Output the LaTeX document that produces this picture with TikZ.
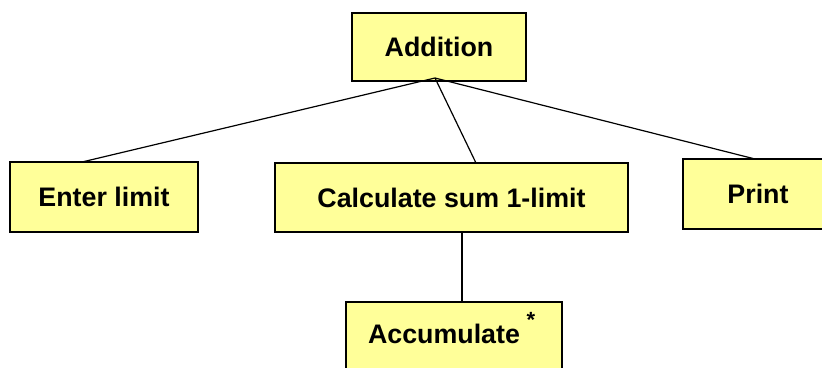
\documentclass[tikz,border=0pt]{standalone}
\usepackage{fontspec}
\setmainfont{Liberation Sans}
\definecolor{boxfill}{HTML}{FFFF99}
\begin{document}
\begin{tikzpicture}[x=1pt,y=-1pt,
  box/.style={draw=black, line width=1.6pt, fill=boxfill, inner sep=0pt, outer sep=0pt,
    font=\fontsize{26.8}{30}\selectfont\bfseries},
  conn/.style={draw=black, line width=1.2pt}]
\useasboundingbox (0,0) rectangle (822,367);
\clip (0,0) rectangle (822,367);
\node[box, minimum width=174pt, minimum height=68pt] (add) at (439,47) {Addition\hspace{12pt}};
\node[box, minimum width=188pt, minimum height=70pt] (enter) at (104,197) {Enter limit};
\node[box, minimum width=353pt, minimum height=69pt] (calc) at (451.5,197.5) {Calculate sum 1-limit};
\node[box, minimum width=150pt, minimum height=70pt] (print) at (758,194) {Print};
\node[box, minimum width=216pt, minimum height=70pt] (acc) at (454,337) {Accumulate\hspace{20pt}\strut};
\node[font=\fontsize{22}{24}\selectfont\bfseries, inner sep=0pt] (star) at (531,320) {*};
\coordinate (apex) at ([xshift=-4pt,yshift=3pt]add.south);
\draw[conn] (apex) -- ([xshift=-22pt]enter.north);
\draw[conn] (apex) -- ([xshift=24.5pt]calc.north);
\draw[conn] (apex) -- ([xshift=-3pt]print.north);
\draw[conn] ([xshift=10.5pt]calc.south) -- ([xshift=8pt]acc.north);
\end{tikzpicture}
\end{document}
